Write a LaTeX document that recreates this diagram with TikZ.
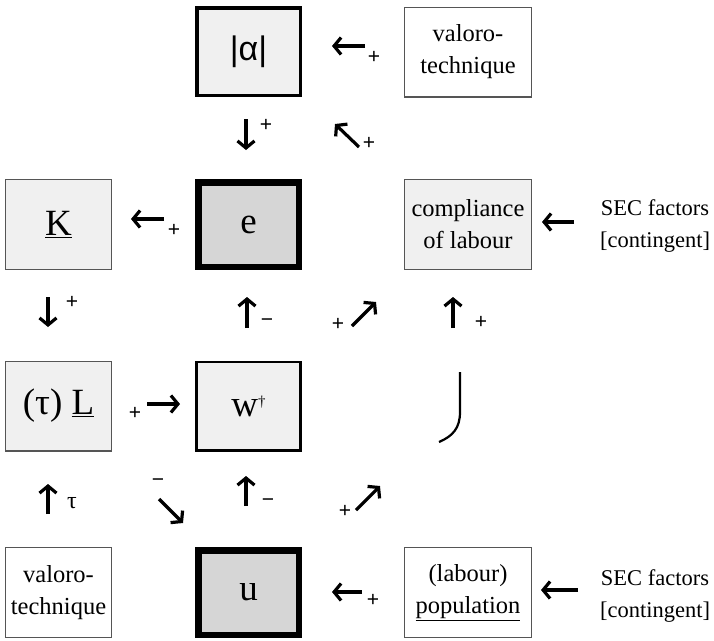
\documentclass[tikz,border=0pt]{standalone}
\usepackage{fontspec}
\setmainfont{Liberation Serif}
\newfontfamily\sansf{Liberation Sans}
\usetikzlibrary{arrows.meta}
\definecolor{lightfill}{HTML}{F0F0F0}
\definecolor{darkfill}{HTML}{D6D6D6}
\definecolor{thinline}{HTML}{555555}
\begin{document}
\begin{tikzpicture}[x=1pt,y=-1pt,
  box/.style={rectangle, align=center, inner sep=0pt, font=\fontsize{24.5}{32}\selectfont},
  thinbox/.style={box, draw=thinline, line width=1.3pt, minimum width=105.7pt, minimum height=89.7pt},
  widebox/.style={thinbox, minimum width=126.7pt},
  alphabox/.style={box, draw=black, line width=3.5pt, fill=lightfill, minimum width=103.5pt, minimum height=87.5pt},
  heavybox/.style={box, draw=black, line width=6.5pt, fill=darkfill, minimum width=100.5pt, minimum height=84.5pt},
  wbox/.style={box, draw=black, line width=2.8pt, fill=lightfill, minimum width=104.2pt, minimum height=88.2pt},
  big/.style={font=\fontsize{37}{37}\selectfont},
  sec/.style={align=center, inner sep=0pt, font=\fontsize{22.5}{32}\selectfont},
  sgn/.style={inner sep=0pt, font=\sansf\fontsize{21}{21}\selectfont},
  arr/.style={line width=3.2pt, -{Straight Barb[length=7pt,width=17pt]}},
]
\useasboundingbox (0,0) rectangle (714,640);

% boxes
\node[alphabox] (alpha) at (248.5,51.5) {\sansf\fontsize{34}{34}\selectfont |α|};
\node[widebox, fill=white] (vt1) at (468,52) {valoro-\\technique};
\node[thinbox, fill=lightfill, big] (K) at (58.5,224.5) {\underline{K}};
\node[heavybox, big] (e) at (248.5,224.5) {e};
\node[widebox, fill=lightfill] (comp) at (468,224.5) {compliance\\of labour};
\node[sec] (sec1) at (655,226) {SEC factors\\{[contingent]}};
\node[thinbox, fill=lightfill, big] (L) at (58.5,406) {(τ) \underline{L}};
\node[wbox, big] (w) at (248.5,406) {w\raisebox{10pt}{\fontsize{15}{15}\selectfont †}};
\node[thinbox, fill=white] (vt2) at (58.5,592.5) {valoro-\\technique};
\node[heavybox, big] (u) at (248.5,592.5) {u};
\node[widebox, fill=white] (pop) at (468,592.5) {(labour)\\\underline{population}};
\node[sec] (sec2) at (655,596) {SEC factors\\{[contingent]}};

% arrow symbols and signs
\draw[arr] (365,46) -- (332,46);   \node[sgn] (s1) at (374,57) {+};
\draw[arr] (246,119) -- (246,150); \node[sgn] (s2) at (266,125) {+};
\draw[arr] (359,147) -- (335,124); \node[sgn] (s3) at (369,143) {+};
\draw[arr] (164,219) -- (131,219); \node[sgn] (s4) at (174,230) {+};
\draw[arr] (574,222) -- (542,222);
\draw[arr] (48,297) -- (48,327);   \node[sgn] (s5) at (72,302) {+};
\draw[arr] (247,328) -- (247,297); \node[sgn] (s6) at (267,323) {−};
\draw[arr] (352,326) -- (376,302); \node[sgn] (s7) at (338,324) {+};
\draw[arr] (453,328) -- (453,297); \node[sgn] (s8) at (481,322) {+};
\draw[arr] (147,404) -- (180,404); \node[sgn] (s9) at (135,413) {+};
\draw[arr] (48,514) -- (48,484);   \node[sgn, font=\fontsize{24}{24}\selectfont] (s10) at (72,503) {τ};
\draw[arr] (159,499) -- (183,523); \node[sgn] (s11) at (158,483) {−};
\draw[arr] (246,506) -- (246,476); \node[sgn] (s12) at (268,503) {−};
\draw[arr] (356,510) -- (380,486); \node[sgn] (s13) at (345,511) {+};
\draw[arr] (362,592) -- (332,592); \node[sgn] (s14) at (373,600) {+};
\draw[arr] (578,590) -- (541,590);

% curve
\draw[line width=2.2pt] (460,372) -- (460,412) .. controls (460,428) and (453,436) .. (439,442);
\end{tikzpicture}
\end{document}
